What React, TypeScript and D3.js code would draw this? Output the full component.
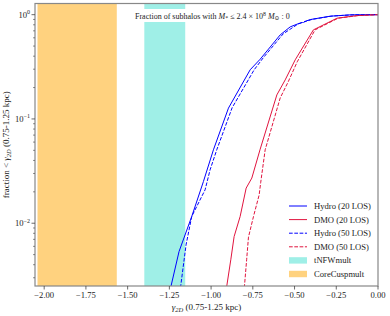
import React from 'react';
import * as d3 from 'd3';

// cumulative fraction of subhalos below gamma_2D
const hydro20Gamma = [-1.26, -1.24, -1.192, -1.116, -1.046, -0.986, -0.896, -0.766, -0.706, -0.586, -0.526, -0.486, -0.406, -0.287, -0.167, -0.047, 0];
const hydro20Frac = [0.0019, 0.0025, 0.00535, 0.0116, 0.0251, 0.0506, 0.127, 0.296, 0.374, 0.64, 0.764, 0.81, 0.898, 0.967, 0.996, 1, 1];

const hydro50Gamma = [-1.19, -1.182, -1.15, -1.116, -1.036, -1.006, -0.966, -0.874, -0.742, -0.688, -0.568, -0.478, -0.394, -0.275, -0.155, -0.04, 0];
const hydro50Frac = [0.0019, 0.0025, 0.0062, 0.0116, 0.0209, 0.0325, 0.0506, 0.128, 0.296, 0.385, 0.655, 0.816, 0.902, 0.97, 0.996, 1, 1];

const dmo20Gamma = [-0.915, -0.906, -0.882, -0.862, -0.826, -0.79, -0.756, -0.707, -0.606, -0.556, -0.496, -0.387, -0.246, -0.127, -0.01, 0];
const dmo20Frac = [0.0019, 0.0025, 0.00446, 0.00745, 0.0116, 0.0217, 0.0271, 0.0506, 0.17, 0.237, 0.369, 0.715, 0.925, 0.98, 1, 1];

const dmo50Gamma = [-0.805, -0.8, -0.787, -0.776, -0.746, -0.712, -0.703, -0.676, -0.586, -0.538, -0.484, -0.377, -0.239, -0.12, -0.005, 0];
const dmo50Frac = [0.0019, 0.0025, 0.00446, 0.00736, 0.0116, 0.0187, 0.0244, 0.0506, 0.159, 0.227, 0.353, 0.715, 0.925, 0.98, 1, 1];

// shaded gamma ranges of the two models
const tnfwRange = [-1.40, -1.155];
const coreCuspRange = [-2.04, -1.565];

const xTicks = [-2.0, -1.75, -1.5, -1.25, -1.0, -0.75, -0.5, -0.25, 0.0];
const yMajorExp = [0, -1, -2];

const legendLabels = ['Hydro (20 LOS)', 'DMO (20 LOS)', 'Hydro (50 LOS)', 'DMO (50 LOS)', 'tNFWmult', 'CoreCuspmult'];

const W = 390;
const H = 316;
const left = 35;
const right = 378;
const top = 3.5;
const bottom = 286;

const BLUE = '#0000ff';
const RED = '#e0143e';
const FONT = '"Liberation Serif", "DejaVu Serif", serif';

const App: React.FC = () => {
  const x = d3.scaleLinear().domain([-2.055, 0]).range([left, right]);
  const y = d3.scaleLog().domain([0.0025, 1.28]).range([bottom, top]);

  const line = d3
    .line<[number, number]>()
    .x(d => x(d[0]))
    .y(d => y(d[1]));

  const zip = (g: number[], f: number[]) => g.map((v, i) => [v, f[i]] as [number, number]);

  const series = [
    { pts: zip(hydro20Gamma, hydro20Frac), color: BLUE, dash: undefined },
    { pts: zip(dmo20Gamma, dmo20Frac), color: RED, dash: undefined },
    { pts: zip(hydro50Gamma, hydro50Frac), color: BLUE, dash: '3.7 1.6' },
    { pts: zip(dmo50Gamma, dmo50Frac), color: RED, dash: '3.7 1.6' },
  ];

  // minor ticks 2..9 per decade
  const minor: number[] = [];
  for (let e = -3; e <= 0; e++) {
    for (let m = 2; m <= 9; m++) {
      const v = m * Math.pow(10, e);
      if (v >= 0.0025 && v <= 1.28) minor.push(v);
    }
  }

  const fmt = (v: number) => (v < 0 ? '\u2212' : '') + Math.abs(v).toFixed(2);

  const legX = 289;
  const legY0 = 206;
  const legStep = 13.6;

  return (
    <svg
      width={W}
      height={H}
      style={{ position: 'absolute', left: 0, top: 0, background: '#fff' }}
      fontFamily={FONT}
    >
      <defs>
        <clipPath id="plot">
          <rect x={left} y={top} width={right - left} height={bottom - top} />
        </clipPath>
      </defs>

      <g clipPath="url(#plot)">
        <rect
          x={x(coreCuspRange[0])}
          y={top}
          width={x(coreCuspRange[1]) - x(coreCuspRange[0])}
          height={bottom - top}
          fill="#ffa500"
          fillOpacity={0.5}
        />
        <rect
          x={x(tnfwRange[0])}
          y={top}
          width={x(tnfwRange[1]) - x(tnfwRange[0])}
          height={bottom - top}
          fill="#40e0d0"
          fillOpacity={0.5}
        />
        {series.map((s, i) => (
          <path
            key={i}
            d={line(s.pts) || ''}
            fill="none"
            stroke={s.color}
            strokeWidth={1}
            strokeDasharray={s.dash}
          />
        ))}
      </g>

      {/* title box */}
      <rect x={132} y={9} width={172} height={13} fill="#fff" />
      <text x={135} y={18.5} fontSize={8} fill="#222">
        Fraction of subhalos with <tspan fontStyle="italic">M</tspan>
        <tspan fontSize={5.8} dy={1.5}>*</tspan>
        <tspan dy={-1.5}> ≤ 2.4 × 10</tspan>
        <tspan fontSize={5.8} dy={-3}>8</tspan>
        <tspan dy={3}> </tspan>
        <tspan fontStyle="italic">M</tspan>
        <tspan fontSize={5.8} dy={1.5}>⊙</tspan>
        <tspan dy={-1.5}> : 0</tspan>
      </text>

      {/* frame */}
      <rect
        x={left}
        y={top}
        width={right - left}
        height={bottom - top}
        fill="none"
        stroke="#888"
        strokeWidth={1.2}
      />

      {/* x axis */}
      {xTicks.map(t => (
        <g key={t}>
          <line x1={x(t)} x2={x(t)} y1={bottom} y2={bottom + 3.5} stroke="#444" strokeWidth={0.8} />
          <text x={x(t)} y={bottom + 12} fontSize={8.6} textAnchor="middle" fill="#222">
            {fmt(t)}
          </text>
        </g>
      ))}
      <text x={(left + right) / 2} y={309.5} fontSize={9} textAnchor="middle" fill="#222">
        <tspan fontStyle="italic">γ</tspan>
        <tspan fontSize={6.5} dy={2} fontStyle="italic">2D</tspan>
        <tspan dy={-2}> (0.75-1.25 kpc)</tspan>
      </text>

      {/* y axis */}
      {minor.map(v => (
        <line key={v} x1={left - 2} x2={left} y1={y(v)} y2={y(v)} stroke="#444" strokeWidth={0.6} />
      ))}
      {yMajorExp.map(e => (
        <g key={e}>
          <line
            x1={left - 3.5}
            x2={left}
            y1={y(Math.pow(10, e))}
            y2={y(Math.pow(10, e))}
            stroke="#444"
            strokeWidth={0.8}
          />
          <text x={left - 5} y={y(Math.pow(10, e)) + 3} fontSize={8.6} textAnchor="end" fill="#222">
            10
            <tspan fontSize={6} dy={-3.5}>
              {e === 0 ? '0' : '\u2212' + Math.abs(e)}
            </tspan>
          </text>
        </g>
      ))}
      <text
        transform={`translate(9, ${(top + bottom) / 2}) rotate(-90)`}
        fontSize={9}
        textAnchor="middle"
        fill="#222"
      >
        fraction {'<'} <tspan fontStyle="italic">γ</tspan>
        <tspan fontSize={6.5} dy={2} fontStyle="italic">2D</tspan>
        <tspan dy={-2}> (0.75-1.25 kpc)</tspan>
      </text>

      {/* legend */}
      {legendLabels.map((lab, i) => {
        const cy = legY0 + i * legStep;
        let handle: React.ReactNode;
        if (i < 4) {
          handle = (
            <line
              x1={legX}
              x2={legX + 18}
              y1={cy}
              y2={cy}
              stroke={series[i].color}
              strokeWidth={1}
              strokeDasharray={series[i].dash}
            />
          );
        } else {
          handle = (
            <rect
              x={legX}
              y={cy - 3.2}
              width={18}
              height={6.4}
              fill={i === 4 ? '#40e0d0' : '#ffa500'}
              fillOpacity={0.5}
            />
          );
        }
        return (
          <g key={lab}>
            {handle}
            <text x={legX + 25} y={cy + 3} fontSize={8.6} fill="#222">
              {lab}
            </text>
          </g>
        );
      })}
    </svg>
  );
};

export default App;
